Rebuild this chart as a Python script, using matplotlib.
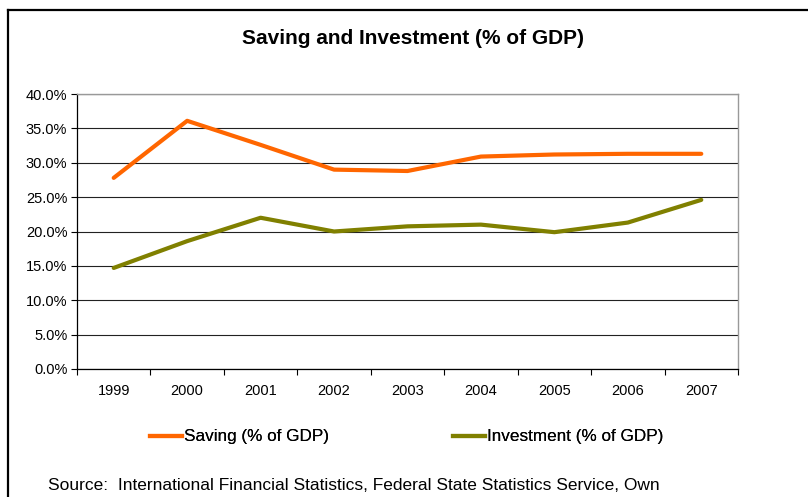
import matplotlib.pyplot as plt
from matplotlib.lines import Line2D
from matplotlib.ticker import FixedLocator, FuncFormatter

plt.rcParams['font.family'] = ['Liberation Sans', 'DejaVu Sans']

# data (% of GDP)
years = ['1999', '2000', '2001', '2002', '2003', '2004', '2005', '2006', '2007']
saving = [27.8, 36.1, 32.6, 29.0, 28.8, 30.9, 31.2, 31.3, 31.3]
investment = [14.7, 18.6, 22.0, 20.0, 20.75, 21.0, 19.9, 21.3, 24.6]

saving_color = '#FF6600'
invest_color = '#808000'

W, H = 808, 497
fig = plt.figure(figsize=(W / 100, H / 100), dpi=100)
ax = fig.add_axes([77 / W, 1 - 369 / H, (738 - 77) / W, (369 - 94) / H])

x = list(range(len(years)))
ax.plot(x, saving, color=saving_color, lw=3, solid_capstyle='round', zorder=3)
ax.plot(x, investment, color=invest_color, lw=3, solid_capstyle='round', zorder=3)

ax.set_xlim(-0.5, len(years) - 0.5)
ax.set_ylim(0, 40)

# y axis
ax.set_yticks([0, 5, 10, 15, 20, 25, 30, 35, 40])
ax.yaxis.set_major_formatter(FuncFormatter(lambda v, p: f'{v:.1f}%'))
ax.yaxis.grid(True, color='#222222', lw=0.8)
ax.set_axisbelow(True)

# x axis: labels centred, ticks between categories
ax.set_xticks(x)
ax.set_xticklabels(years)
ax.xaxis.set_minor_locator(FixedLocator([i - 0.5 for i in range(len(years) + 1)]))
ax.tick_params(axis='x', which='major', length=0, pad=11)
ax.tick_params(axis='x', which='minor', length=4, width=0.8, color='black', direction='out')
ax.tick_params(axis='y', length=4, width=0.8, color='black', direction='out', pad=3)
ax.tick_params(labelsize=10.5)

for side in ['left', 'bottom']:
    ax.spines[side].set_color('black')
    ax.spines[side].set_linewidth(0.9)
for side in ['top', 'right']:
    ax.spines[side].set_color('#999999')
    ax.spines[side].set_linewidth(1.0)

fig.text(413 / W, 1 - 38 / H, 'Saving and Investment (% of GDP)',
         ha='center', va='center', fontsize=15, fontweight='bold')

# legend, one entry each so both sit where they should
labels = ['Saving (% of GDP)', 'Investment (% of GDP)']
colors = [saving_color, invest_color]
starts = [150, 453]
for lab, col, x0 in zip(labels, colors, starts):
    leg = fig.legend([Line2D([], [], color=col, lw=3)], [lab],
                     loc='center left', bbox_to_anchor=(x0 / W, 1 - 437 / H),
                     frameon=False, fontsize=12.3, handlelength=1.9,
                     handletextpad=0.1, borderpad=0, borderaxespad=0)
    fig.add_artist(leg)

fig.text(48 / W, 1 - 485 / H,
         'Source:  International Financial Statistics, Federal State Statistics Service, Own',
         ha='left', va='center', fontsize=12.5)

# outer frame
fig.add_artist(Line2D([8 / W, 8 / W], [0, 1 - 10 / H], color='black', lw=1.6))
fig.add_artist(Line2D([8 / W, 1], [1 - 10 / H, 1 - 10 / H], color='black', lw=1.6))

fig.savefig('out.png', dpi=100)
